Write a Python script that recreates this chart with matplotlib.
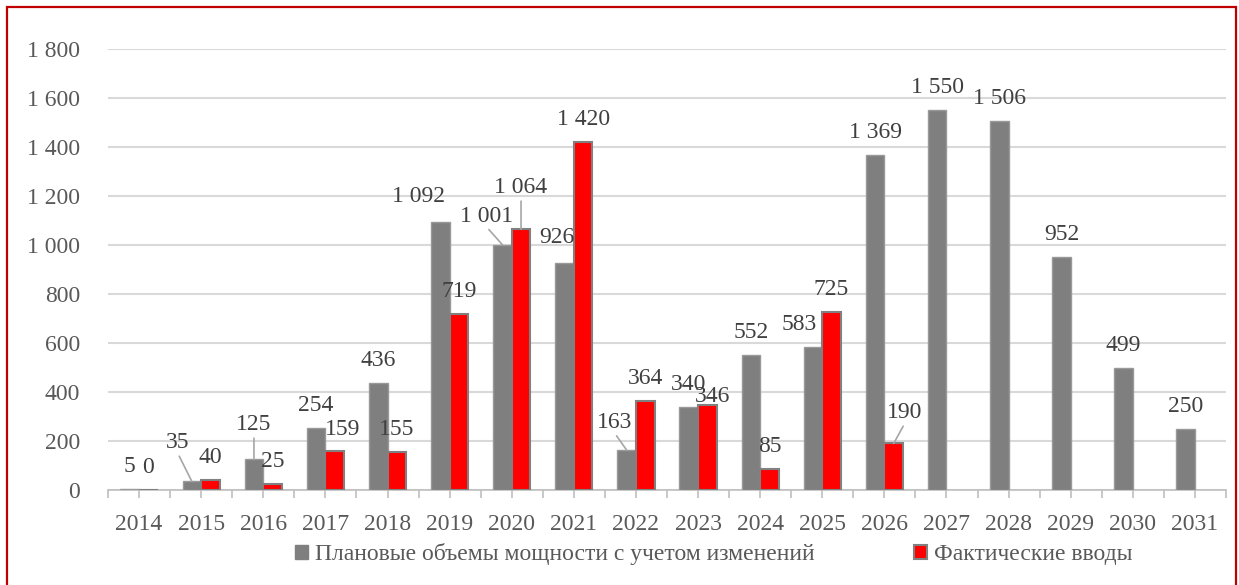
import matplotlib.pyplot as plt
from matplotlib.patches import Patch, Rectangle
from matplotlib.ticker import FuncFormatter, FixedLocator
import numpy as np

plt.rcParams['font.family'] = ['Liberation Serif', 'DejaVu Serif']
plt.rcParams['font.size'] = 17

# Data
years = ['2014', '2015', '2016', '2017', '2018', '2019', '2020', '2021', '2022',
         '2023', '2024', '2025', '2026', '2027', '2028', '2029', '2030', '2031']
planned = [5, 35, 125, 254, 436, 1092, 1001, 926, 163, 340, 552, 583, 1369,
           1550, 1506, 952, 499, 250]
actual = [0, 40, 25, 159, 155, 719, 1064, 1420, 364, 346, 85, 725, 190]
planned_name = 'Плановые объемы мощности с учетом изменений'
actual_name = 'Фактические вводы'

# label nudges in pixels (dx, baseline above bar top), leader flag
planned_nudge = {1: (-14, 33, True), 2: (0, 29, True), 5: (-22, 20, False),
                 6: (-16, 23, True), 7: (-8, 20, False), 8: (-12, 22, True),
                 11: (-14, 17, False)}
actual_nudge = {3: (8, 16, False), 6: (0, 36, True), 9: (5, 3, False),
                12: (11, 25, True)}

GRAY = '#7f7f7f'
RED = '#ff0000'
LABEL_C = '#404040'
TICK_C = '#595959'
FS = 17

fig = plt.figure(figsize=(12.39, 5.85), dpi=100)
ax = fig.add_axes([108 / 1239, 1 - 490 / 585, (1226 - 108) / 1239, (490 - 49) / 585])

x = np.arange(len(years))
w = 0.3
xa = x[:len(actual)]
ax.bar(x - w / 2, planned, w, color=GRAY, edgecolor='#999999', linewidth=1, zorder=3)
ax.bar(xa + w / 2, actual, w, color=RED, edgecolor='#808080', linewidth=1.5, zorder=3)

fmt = lambda v: f'{v:,.0f}'.replace(',', ' ')


def label(xp, val, nudge):
    dx, dy, leader = nudge
    kw = {}
    if leader:
        kw['arrowprops'] = dict(arrowstyle='-', color='#a6a6a6', lw=1.2,
                                shrinkA=0, shrinkB=0, relpos=(0.5, 0))
    ax.annotate(fmt(val), xy=(xp, val), xytext=(dx, dy), textcoords='offset pixels',
                ha='center', va='baseline', color=LABEL_C, fontsize=FS,
                zorder=5, **kw)


for i, v in enumerate(planned):
    label(x[i] - w / 2, v, planned_nudge.get(i, (0, 17, False)))
for i, v in enumerate(actual):
    label(xa[i] + w / 2, v, actual_nudge.get(i, (0, 17, False)))

ax.set_xlim(-0.5, len(years) - 0.5)
ax.set_ylim(0, 1800)
ax.set_yticks(np.arange(0, 1801, 200))
ax.yaxis.set_major_formatter(FuncFormatter(lambda v, p: fmt(v)))
ax.grid(axis='y', color='#d9d9d9', linewidth=1.5, zorder=0)
ax.set_axisbelow(True)

ax.set_xticks(x)
ax.set_xticklabels(years)
ax.xaxis.set_minor_locator(FixedLocator(np.arange(-0.5, len(years), 1.0)))
ax.tick_params(axis='x', which='both', length=6, color='#bfbfbf', width=1.2,
               colors=TICK_C, pad=11, labelsize=FS)
ax.tick_params(axis='x', which='minor', length=6, color='#bfbfbf')
ax.tick_params(axis='y', length=0, pad=20, colors=TICK_C, labelsize=FS)
for s in ['top', 'right', 'left']:
    ax.spines[s].set_visible(False)
ax.spines['bottom'].set_color('#bfbfbf')
ax.spines['bottom'].set_linewidth(1.2)

handles = [Patch(facecolor=GRAY, edgecolor=GRAY, label=planned_name),
           Patch(facecolor=RED, edgecolor='#808080', linewidth=1.5, label=actual_name)]
leg = fig.legend(handles=handles, loc='center', bbox_to_anchor=(714 / 1239, 1 - 554 / 585),
                 ncol=2, frameon=False, columnspacing=4.2, handlelength=0.55,
                 handleheight=0.55, handletextpad=0.3, fontsize=FS)
for t in leg.get_texts():
    t.set_color(TICK_C)

fig.patches.append(Rectangle((7 / 1239, -0.02), (1236 - 7) / 1239, 1.02 - 7 / 585,
                             transform=fig.transFigure, fill=False,
                             edgecolor='#c00000', linewidth=1.6))

fig.savefig('out.png', dpi=100)
